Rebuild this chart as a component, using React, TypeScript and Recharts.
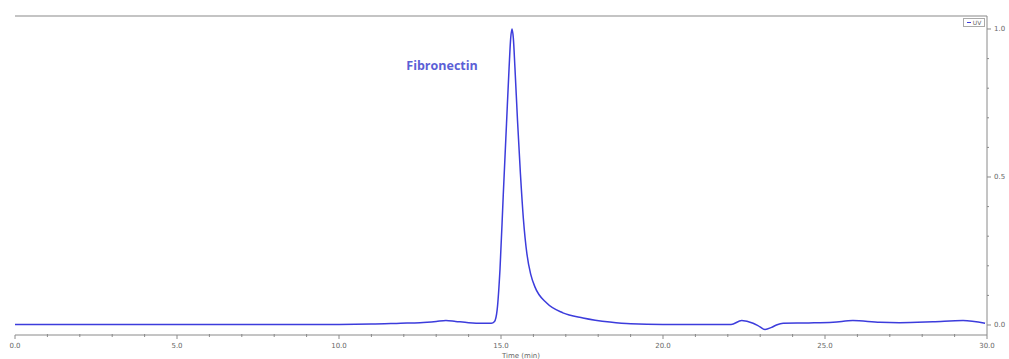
import React from 'react';
import { ComposedChart, Line, XAxis, YAxis, ReferenceDot, ReferenceLine, Legend } from 'recharts';

const times = [0, 2, 4, 6, 8, 10, 11, 11.9, 12.5, 13.0, 13.3, 13.6, 14.0, 14.4, 14.7, 14.8, 14.88, 14.97, 15.07, 15.17, 15.25, 15.30, 15.34, 15.38, 15.43, 15.51, 15.60, 15.69, 15.80, 15.92, 16.05, 16.41, 16.91, 17.53, 18.36, 19.0, 20.0, 21.0, 22.1, 22.43, 22.78, 22.93, 23.15, 23.35, 23.5, 23.71, 24.5, 25.25, 25.86, 26.7, 27.3, 28.33, 29.26, 29.94];
const uv = [0.002, 0.002, 0.002, 0.002, 0.002, 0.002, 0.003, 0.006, 0.008, 0.012, 0.015, 0.012, 0.008, 0.006, 0.006, 0.012, 0.05, 0.19, 0.44, 0.68, 0.87, 0.97, 1.0, 0.97, 0.87, 0.69, 0.51, 0.36, 0.24, 0.17, 0.128, 0.074, 0.041, 0.024, 0.010, 0.004, 0.002, 0.002, 0.002, 0.015, 0.006, -0.002, -0.015, -0.008, 0.0, 0.006, 0.007, 0.009, 0.015, 0.009, 0.008, 0.011, 0.015, 0.006];

const xTicks = [0, 1, 2, 3, 4, 5, 6, 7, 8, 9, 10, 11, 12, 13, 14, 15, 16, 17, 18, 19, 20, 21, 22, 23, 24, 25, 26, 27, 28, 29, 30];
const yTicks = [0, 0.1, 0.2, 0.3, 0.4, 0.5, 0.6, 0.7, 0.8, 0.9, 1.0];
const peakLabel = 'Fibronectin';
const seriesName = 'UV';
const xTitle = 'Time (min)';

const Y_MIN = -0.0338;
const Y_MAX = 1.0439;

const data = times.map((t, i) => ({ t, uv: uv[i] }));

const AXIS = '#8a8a8a';
const TXT = '#666';

const XTick = (props: any) => {
  const { x, y, payload } = props;
  const v = payload.value;
  const major = Math.round(v) % 5 === 0;
  return (
    <g>
      <line x1={x} x2={x} y1={major ? y : y - 1} y2={major ? y + 4 : y + 2} stroke={AXIS} strokeWidth={1} />
      {major && (
        <text x={x} y={y + 13} textAnchor="middle" fontSize={7} fill={TXT} fontFamily="DejaVu Sans">
          {v.toFixed(1)}
        </text>
      )}
    </g>
  );
};

const YTick = (props: any) => {
  const { x, y, payload } = props;
  const v = payload.value;
  const major = Math.round(v * 10) % 5 === 0;
  return (
    <g>
      <line x1={x} x2={major ? x + 4 : x + 2} y1={y} y2={y} stroke={AXIS} strokeWidth={1} />
      {major && (
        <text x={x + 7} y={y + 2.5} textAnchor="start" fontSize={7} fill={TXT} fontFamily="DejaVu Sans">
          {v.toFixed(1)}
        </text>
      )}
    </g>
  );
};

const PeakText = (props: any) => {
  const { viewBox } = props;
  const cx = viewBox.cx ?? viewBox.x;
  const cy = viewBox.cy ?? viewBox.y;
  return (
    <text x={cx} y={cy + 4.5} textAnchor="middle" fontSize={12.5} fontWeight="bold" fill="#5b5fd6" fontFamily="Open Sans">
      {peakLabel}
    </text>
  );
};

const AxisTitle = (props: any) => {
  const { viewBox } = props;
  return (
    <text x={viewBox.x + viewBox.width / 2 + 20} y={viewBox.y + 22.5} textAnchor="middle" fontSize={7} fill={TXT} fontFamily="DejaVu Sans">
      {xTitle}
    </text>
  );
};

const LegendBox = () => (
  <div style={{ width: 20, height: 7, border: '1px solid #aaa', display: 'flex', alignItems: 'center', justifyContent: 'center', fontSize: 6, color: TXT, fontFamily: 'DejaVu Sans', background: '#fff', lineHeight: '7px' }}>
    <span style={{ display: 'inline-block', width: 4, height: 1, background: '#3c3cdc', marginRight: 2 }} />
    {seriesName}
  </div>
);

export default function App() {
  return (
    <div style={{ position: 'absolute', left: 0, top: 0, background: '#fff' }}>
      <ComposedChart width={1009} height={359} data={data} margin={{ top: 16, right: 0, bottom: 0, left: 15 }}>
        <XAxis
          dataKey="t"
          type="number"
          domain={[0, 30]}
          ticks={xTicks}
          allowDataOverflow
          height={24}
          interval={0}
          tickSize={0}
          tickMargin={0}
          tickLine={false}
          axisLine={{ stroke: AXIS, strokeWidth: 1 }}
          tick={<XTick />}
          label={<AxisTitle />}
        />
        <YAxis
          orientation="right"
          type="number"
          domain={[Y_MIN, Y_MAX]}
          allowDataOverflow
          ticks={yTicks}
          interval={0}
          width={22}
          tickSize={0}
          tickMargin={0}
          tickLine={false}
          axisLine={{ stroke: AXIS, strokeWidth: 1 }}
          tick={<YTick />}
        />
        <ReferenceLine y={Y_MAX} stroke="#c4c4c4" strokeWidth={2} ifOverflow="visible" />
        <Legend content={<LegendBox />} layout="vertical" verticalAlign="middle" align="center" wrapperStyle={{ top: 18, left: 963, width: 24 }} />
        <Line type="monotone" dataKey="uv" name={seriesName} stroke="#3c3cdc" strokeWidth={1.5} dot={false} isAnimationActive={false} />
        <ReferenceDot x={13.18} y={0.875} r={0} fill="none" stroke="none" label={<PeakText />} />
      </ComposedChart>
    </div>
  );
}
